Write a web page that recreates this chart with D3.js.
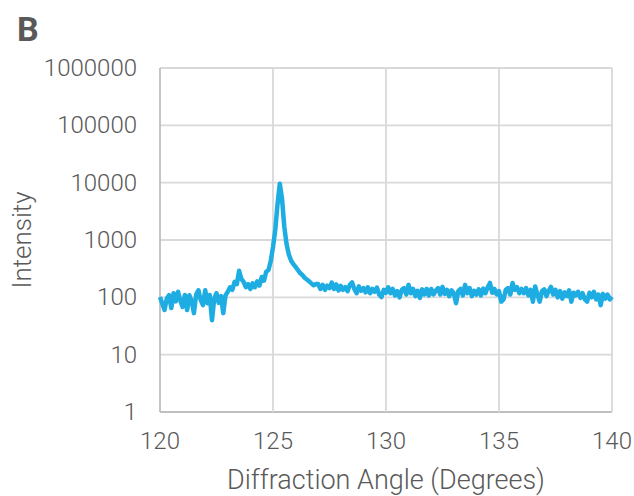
<!DOCTYPE html>
<html>
<head>
<meta charset="utf-8">
<script src="https://cdn.jsdelivr.net/npm/d3@7"></script>
<style>
body{margin:0;background:#fff;}
text{font-family:Roboto,"Open Sans",sans-serif;}
</style>
</head>
<body>
<script>
// diffraction scan, one reading every 0.1 degree from 120.0
var angleStart=120, angleStep=0.1;

var intensity120=[101,78,60,95,109,65,118,85,125,88,68,110,60,109,86,53,112,133,90,73,
                  133,79,110,40,95,118,80,105,53,109];
var intensity123=[125,150,135,186,170,290,210,186,150,170,140,175,150,190,160,226,195,280,300,430];
var intensityPeak=[750,1500,4200,9600,5200,1700,850,560,440,380,340,300,265,245,220,205,190,175,163,170];
var intensity127=[170,140,165,135,160,145,180,140,168,132,
                  158,135,150,128,165,182,140,118,155,130,
                  145,122,150,118,140,125,148,112,101,135];
var intensity130=[120,150,118,140,108,128,100,135,145,112,
                  165,118,140,105,130,98,138,112,140,108,
                  140,112,130,145,112,152,115,135,105,132,
                  118,79,128,140,108,165,118,145,105,130,
                  112,138,108,142,118,150,178,120,140,112];
var intensity135=[128,84,92,135,145,112,178,135,150,118,
                  140,118,145,108,135,84,155,112,84,128,
                  138,105,130,152,112,135,100,128,95,122,
                  105,132,84,120,108,125,98,118,92,84,
                  120,100,125,92,112,73,115,95,112,92,102];

var xTicks=[120,125,130,135,140];
var yTicks=[1,10,100,1000,10000,100000,1000000];

var intensity=[].concat(intensity120,intensity123,intensityPeak,intensity127,intensity130,intensity135);
var data=intensity.map(function(v,i){return {x:angleStart+i*angleStep,y:v}});

var W=634,H=496;
var mLeft=160,mRight=612,mTop=68,mBottom=412;
var textCol="#595959";

var svg=d3.select('body').append('svg')
    .attr('width',W)
    .attr('height',H);

var x=d3.scaleLinear().domain([120,140]).range([mLeft,mRight]);
var y=d3.scaleLog().domain([1,1000000]).range([mBottom,mTop]);

// grid
svg.append("g").selectAll("line").data(yTicks).enter().append("line")
    .attr("x1",mLeft).attr("x2",mRight)
    .attr("y1",function(d){return y(d)}).attr("y2",function(d){return y(d)})
    .attr("stroke",function(d){return d==1?"#bfbfbf":"#d9d9d9"})
    .attr("stroke-width",1.8);
svg.append("g").selectAll("line").data(xTicks).enter().append("line")
    .attr("y1",mTop).attr("y2",mBottom)
    .attr("x1",function(d){return x(d)}).attr("x2",function(d){return x(d)})
    .attr("stroke",function(d){return d==120?"#bfbfbf":"#d9d9d9"})
    .attr("stroke-width",1.8);

// tick labels
svg.append("g").selectAll("text").data(yTicks).enter().append("text")
    .attr("x",137).attr("y",function(d){return y(d)+8})
    .attr("text-anchor","end")
    .attr("font-size",24).attr("font-weight",300)
    .attr("fill",textCol)
    .text(function(d){return d});
svg.append("g").selectAll("text").data(xTicks).enter().append("text")
    .attr("x",function(d){return x(d)}).attr("y",449)
    .attr("text-anchor","middle")
    .attr("font-size",24).attr("font-weight",300)
    .attr("fill",textCol)
    .text(function(d){return d});

// line
var line=d3.line()
    .x(function(d){return x(d.x)})
    .y(function(d){return y(d.y)});
svg.append("path").attr("d",line(data))
    .attr("fill","none")
    .attr("stroke","#1eade3")
    .attr("stroke-width",4.5)
    .attr("stroke-linejoin","round");

// titles
svg.append("text")
    .attr("x",(mLeft+mRight)/2).attr("y",489)
    .attr("text-anchor","middle")
    .attr("font-size",27).attr("font-weight",300)
    .attr("fill",textCol)
    .text("Diffraction Angle (Degrees)");
svg.append("text")
    .attr("transform","translate(31,240) rotate(-90)")
    .attr("text-anchor","middle")
    .attr("font-size",26).attr("font-weight",300)
    .attr("fill",textCol)
    .text("Intensity");
svg.append("text")
    .attr("x",17).attr("y",41)
    .attr("font-size",34).attr("font-weight",700)
    .attr("fill",textCol)
    .text("B");
</script>
</body>
</html>
